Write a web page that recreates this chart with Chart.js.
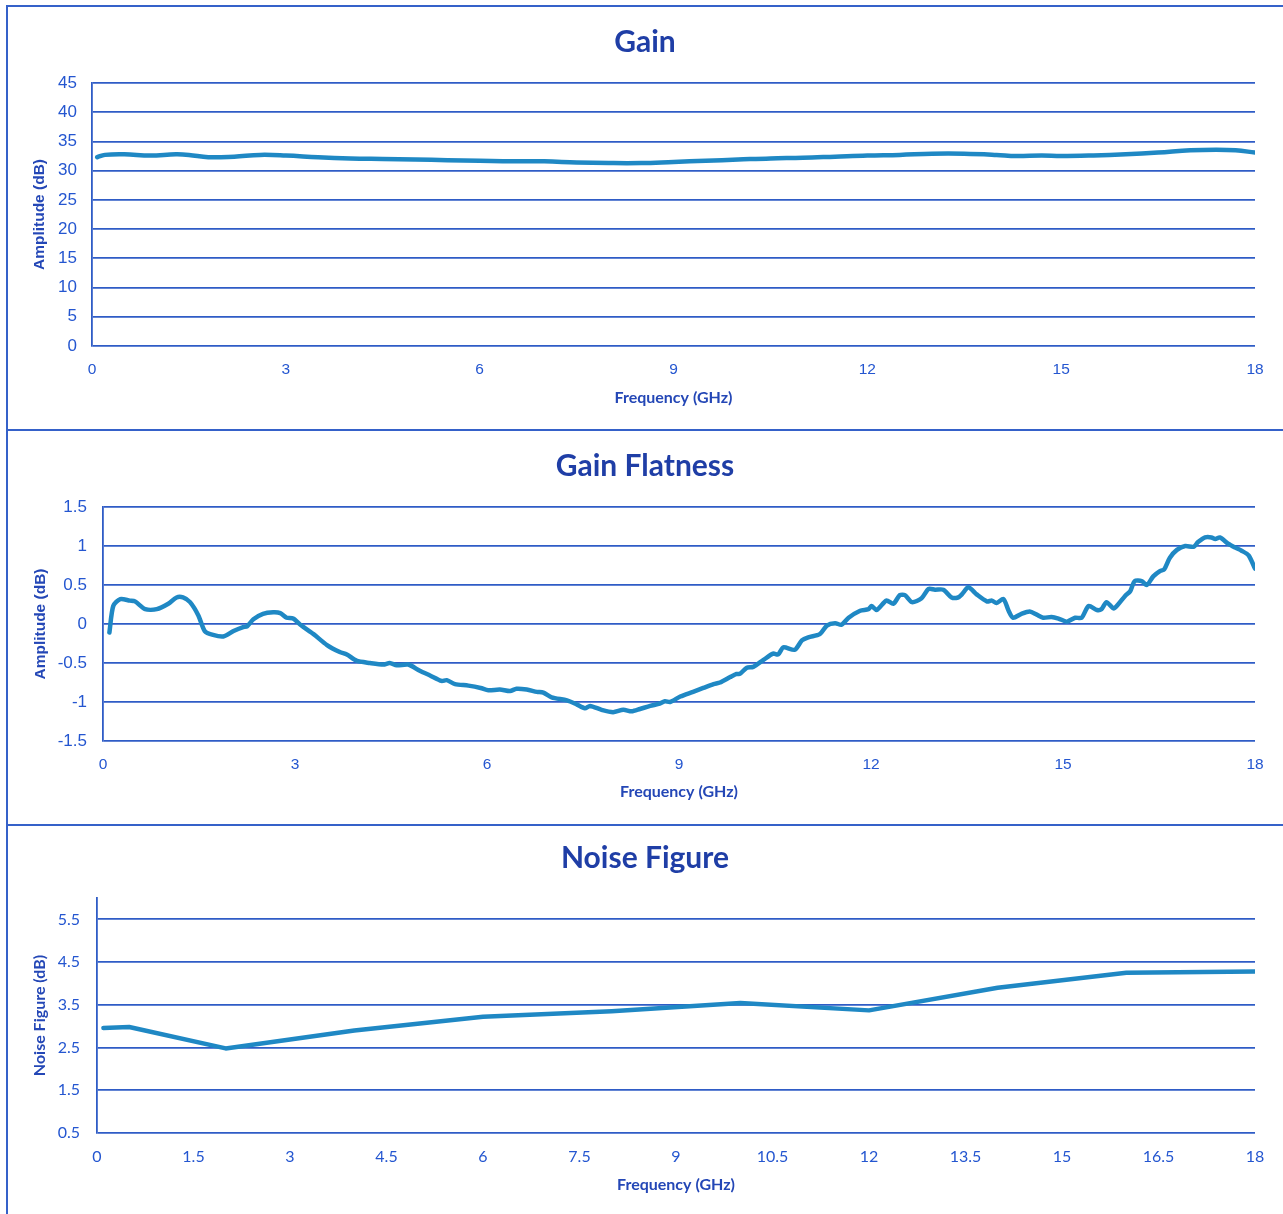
<!DOCTYPE html>
<html>
<head>
<meta charset="utf-8">
<script src="https://cdn.jsdelivr.net/npm/chart.js@4.4.0/dist/chart.umd.min.js"></script>
<style>
html,body{margin:0;padding:0;background:#fff;}
body{width:1283px;height:1214px;position:relative;overflow:hidden;}
.frame{position:absolute;left:6px;top:5px;width:1277px;height:1209px;border-left:2px solid #3561c9;border-top:2px solid #3561c9;box-sizing:border-box;}
.sep{position:absolute;left:6px;width:1277px;height:2px;background:#3561c9;}
.panel{position:absolute;left:8px;width:1272px;}
canvas{display:block;}
</style>
</head>
<body>
<div class="frame"></div>
<div class="sep" style="top:429px"></div>
<div class="sep" style="top:824px"></div>
<div class="panel" style="top:7px;height:422px"><canvas id="c1"></canvas></div>
<div class="panel" style="top:431px;height:393px"><canvas id="c2"></canvas></div>
<div class="panel" style="top:826px;height:388px"><canvas id="c3"></canvas></div>
<script>
// ---------- DATA ----------
const gainFreq = [0.08,0.2,0.5,0.9,1.3,1.5,1.8,2.2,2.6,3.0,3.5,4.0,4.5,5.0,5.5,6.0,6.5,7.0,7.5,8.0,8.5,9.0,9.5,10.0,10.5,11.0,11.5,12.0,12.5,13.0,13.5,14.0,14.3,14.7,15.0,15.5,16.0,16.5,17.0,17.4,17.7,18.0];
const gainDb   = [32.3,32.7,32.8,32.6,32.8,32.7,32.3,32.4,32.7,32.6,32.3,32.1,32.0,31.9,31.8,31.7,31.6,31.6,31.4,31.3,31.3,31.5,31.7,31.9,32.1,32.2,32.4,32.6,32.7,32.9,32.9,32.7,32.5,32.6,32.5,32.6,32.8,33.1,33.5,33.6,33.5,33.1];

const flatFreq = [0.10,0.16,0.27,0.42,0.50,0.66,0.84,1.02,1.15,1.25,1.36,1.49,1.59,1.72,1.88,2.04,2.19,2.25,2.35,2.50,2.66,2.77,2.87,2.97,3.10,3.29,3.50,3.70,3.81,3.96,4.17,4.38,4.48,4.59,4.77,4.95,5.11,5.29,5.37,5.50,5.71,5.90,6.02,6.20,6.36,6.46,6.62,6.78,6.88,7.01,7.25,7.40,7.53,7.61,7.79,7.97,8.13,8.26,8.39,8.55,8.70,8.78,8.86,9.02,9.22,9.38,9.54,9.64,9.80,9.90,9.95,10.06,10.16,10.32,10.47,10.55,10.63,10.81,10.92,11.02,11.20,11.31,11.44,11.54,11.65,11.83,11.96,12.01,12.09,12.24,12.35,12.45,12.53,12.64,12.79,12.90,13.00,13.13,13.26,13.36,13.42,13.52,13.65,13.81,13.89,13.96,14.07,14.15,14.22,14.35,14.48,14.59,14.69,14.82,14.93,15.06,15.19,15.29,15.40,15.53,15.60,15.68,15.79,15.86,15.97,16.05,16.12,16.23,16.31,16.41,16.52,16.58,16.67,16.78,16.91,17.04,17.11,17.22,17.32,17.38,17.45,17.58,17.69,17.79,17.90,18.00];
const flatDb   = [-0.11,0.23,0.32,0.30,0.29,0.19,0.19,0.26,0.34,0.34,0.28,0.11,-0.09,-0.14,-0.16,-0.09,-0.04,-0.03,0.06,0.13,0.15,0.14,0.08,0.07,-0.02,-0.13,-0.27,-0.36,-0.39,-0.47,-0.50,-0.52,-0.50,-0.53,-0.52,-0.60,-0.66,-0.73,-0.72,-0.77,-0.79,-0.82,-0.85,-0.84,-0.86,-0.83,-0.84,-0.87,-0.88,-0.94,-0.98,-1.03,-1.08,-1.05,-1.10,-1.13,-1.10,-1.12,-1.09,-1.05,-1.02,-0.99,-1.00,-0.93,-0.87,-0.82,-0.77,-0.75,-0.68,-0.64,-0.64,-0.56,-0.55,-0.46,-0.38,-0.39,-0.30,-0.33,-0.21,-0.17,-0.13,-0.02,0.01,-0.01,0.08,0.17,0.19,0.23,0.18,0.30,0.26,0.37,0.37,0.28,0.33,0.45,0.44,0.44,0.34,0.34,0.38,0.47,0.38,0.29,0.30,0.27,0.32,0.17,0.08,0.13,0.16,0.12,0.08,0.09,0.07,0.03,0.08,0.08,0.23,0.18,0.19,0.28,0.20,0.25,0.36,0.42,0.55,0.55,0.50,0.61,0.68,0.70,0.85,0.95,1.00,0.99,1.05,1.11,1.11,1.09,1.11,1.03,0.98,0.94,0.88,0.71];

const nfFreq = [0.1,0.5,2.0,4.0,6.0,8.0,10.0,12.0,14.0,16.0,18.0];
const nfDb   = [2.96,2.98,2.48,2.90,3.22,3.35,3.54,3.37,3.90,4.25,4.28];

const gainXTicks = [0,3,6,9,12,15,18];
const gainYTicks = [0,5,10,15,20,25,30,35,40,45];
const flatXTicks = [0,3,6,9,12,15,18];
const flatYTicks = [-1.5,-1,-0.5,0,0.5,1,1.5];
const nfXTicks = [0,1.5,3,4.5,6,7.5,9,10.5,12,13.5,15,16.5,18];
const nfYTicks = [0.5,1.5,2.5,3.5,4.5,5.5];

// ---------- STYLE ----------
const GRID = '#2f5cc6';
const TICK_COLOR = '#2456d0';
const TITLE_COLOR = '#1f3ea6';
const AXIS_TITLE_COLOR = '#2447b6';
const LINE_COLOR = '#1f88c4';

function makeChart(id, o) {
  const cv = document.getElementById(id);
  const W = cv.parentNode.clientWidth, H = cv.parentNode.clientHeight;
  const R = W - o.area.right;
  const L = 2 * o.titleCX - W + R;   // left padding so the title box is centred on titleCX
  const tLH = o.titleSize * 1.2;
  const tPadTop = o.titleCY - tLH / 2;
  const tPadBot = o.area.top - tLH - tPadTop;
  const yTLH = o.yTitleSize * 1.2;
  const xTLH = o.xTitleSize * 1.2;
  const xTickLH = o.xTickSize * 1.2;
  return new Chart(cv, {
    type: 'line',
    data: { datasets: [{
      data: o.xs.map((x, i) => ({ x: x, y: o.ys[i] })),
      borderColor: LINE_COLOR, borderWidth: o.lw, pointRadius: 0,
      tension: o.tension, fill: false, borderCapStyle: 'round', borderJoinStyle: 'round'
    }]},
    options: {
      responsive: true, maintainAspectRatio: false, animation: false,
      layout: { padding: { left: L, top: 0, bottom: 0, right: R } },
      plugins: {
        legend: { display: false }, tooltip: { enabled: false },
        title: { display: true, text: o.title, color: TITLE_COLOR,
          font: { family: 'Lato', weight: 'bold', size: o.titleSize, lineHeight: 1.2 },
          padding: { top: tPadTop, bottom: tPadBot } }
      },
      scales: {
        x: {
          type: 'linear', min: o.xMin, max: o.xMax,
          afterBuildTicks: s => { s.ticks = o.xTicks.map(v => ({ value: v })); },
          afterFit: s => { s.height = H - o.area.bottom; },
          grid: { display: false, drawTicks: false }, border: { display: false },
          ticks: { color: TICK_COLOR, font: { family: o.tickFamily, size: o.xTickSize, lineHeight: 1.2 },
            padding: o.xTickCY - o.area.bottom - xTickLH / 2, maxRotation: 0, autoSkip: false,
            callback: v => String(v) },
          title: { display: true, text: 'Frequency (GHz)', color: AXIS_TITLE_COLOR,
            font: { family: 'Lato', weight: 'bold', size: o.xTitleSize, lineHeight: 1.2 },
            padding: { top: 0, bottom: H - o.xTitleCY - xTLH / 2 } }
        },
        y: {
          type: 'linear', min: o.yMin, max: o.yMax,
          afterBuildTicks: s => { s.ticks = o.yTicks.map(v => ({ value: v })); },
          afterFit: s => { s.width = o.area.left - L; },
          grid: { color: GRID, lineWidth: 1.8, drawTicks: false },
          border: { display: true, color: GRID, width: 1.8 },
          ticks: { color: TICK_COLOR, font: { family: o.tickFamily, size: o.yTickSize },
            padding: o.yTickPad, autoSkip: false, callback: v => String(v) },
          title: { display: true, text: o.yTitle, color: AXIS_TITLE_COLOR,
            font: { family: o.yTitleFamily, weight: 'bold', size: o.yTitleSize, lineHeight: 1.2 },
            padding: { top: o.yTitleCX - L - yTLH / 2, bottom: 0 } }
        }
      }
    }
  });
}

function drawAll() {
  makeChart('c1', {
    xs: gainFreq, ys: gainDb, xTicks: gainXTicks, yTicks: gainYTicks,
    xMin: 0, xMax: 18, yMin: 0, yMax: 45, tension: 0.4, lw: 4.5,
    area: { left: 84, right: 1247, top: 76, bottom: 339 },
    title: 'Gain', titleSize: 30, titleCY: 35, titleCX: 637,
    yTitle: 'Amplitude (dB)', yTitleFamily: 'Liberation Sans', yTitleSize: 15.5, yTitleCX: 32,
    xTitleSize: 16, xTitleCY: 391,
    tickFamily: 'Liberation Sans', xTickSize: 15.5, yTickSize: 17, xTickCY: 363, yTickPad: 15
  });
  makeChart('c2', {
    xs: flatFreq, ys: flatDb, xTicks: flatXTicks, yTicks: flatYTicks,
    xMin: 0, xMax: 18, yMin: -1.5, yMax: 1.5, tension: 0.25, lw: 4.5,
    area: { left: 95, right: 1247, top: 76, bottom: 310 },
    title: 'Gain Flatness', titleSize: 30, titleCY: 35, titleCX: 637,
    yTitle: 'Amplitude (dB)', yTitleFamily: 'Liberation Sans', yTitleSize: 15.5, yTitleCX: 33,
    xTitleSize: 16, xTitleCY: 361,
    tickFamily: 'Liberation Sans', xTickSize: 15.5, yTickSize: 17, xTickCY: 334, yTickPad: 16
  });
  makeChart('c3', {
    xs: nfFreq, ys: nfDb, xTicks: nfXTicks, yTicks: nfYTicks,
    xMin: 0, xMax: 18, yMin: 0.5, yMax: 6, tension: 0, lw: 4.5,
    area: { left: 89, right: 1247, top: 72, bottom: 307 },
    title: 'Noise Figure', titleSize: 30, titleCY: 32, titleCX: 637,
    yTitle: 'Noise Figure (dB)', yTitleFamily: 'Lato', yTitleSize: 16, yTitleCX: 32,
    xTitleSize: 16, xTitleCY: 359,
    tickFamily: 'Lato', xTickSize: 16, yTickSize: 16, xTickCY: 331, yTickPad: 17
  });
}

const fontLoads = [
  'bold 30px Lato', '16px Lato', 'bold 16px Lato', '16px "Liberation Sans"', 'bold 16px "Liberation Sans"'
].map(f => document.fonts.load(f).catch(() => null));
Promise.race([Promise.all(fontLoads), new Promise(r => setTimeout(r, 1500))]).then(drawAll);
</script>
</body>
</html>
